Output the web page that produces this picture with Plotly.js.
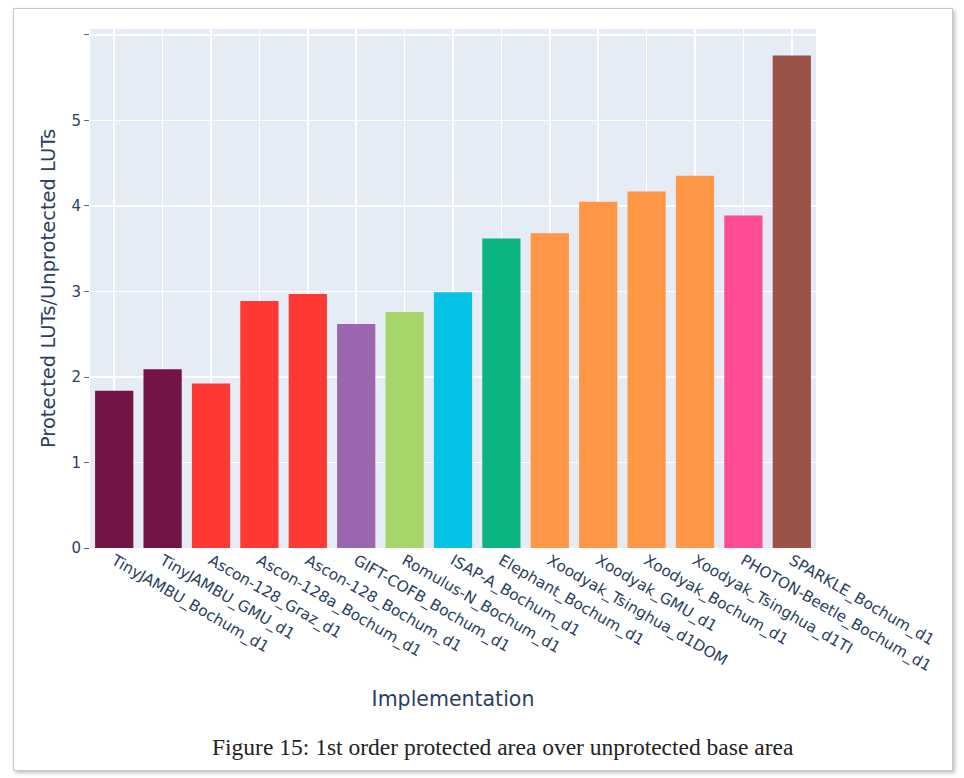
<!DOCTYPE html>
<html>
<head>
<meta charset="utf-8">
<script src="https://cdn.plot.ly/plotly-3.0.1.min.js"></script>
<style>
  html, body { margin: 0; padding: 0; background: #ffffff; }
  #frame {
    position: absolute; left: 13px; top: 8px; width: 938px; height: 761px;
    border: 1px solid #c8c8c8; box-shadow: 2px 2px 4px rgba(0,0,0,0.25);
  }
  #chart { position: absolute; left: 0; top: 0; width: 964px; height: 778px; }
</style>
</head>
<body>
<div id="frame"></div>
<div id="chart"></div>
<script>
// ---- data ----
const implementations = [
  "TinyJAMBU_Bochum_d1", "TinyJAMBU_GMU_d1", "Ascon-128_Graz_d1", "Ascon-128a_Bochum_d1",
  "Ascon-128_Bochum_d1", "GIFT-COFB_Bochum_d1", "Romulus-N_Bochum_d1", "ISAP-A_Bochum_d1",
  "Elephant_Bochum_d1", "Xoodyak_Tsinghua_d1DOM", "Xoodyak_GMU_d1", "Xoodyak_Bochum_d1",
  "Xoodyak_Tsinghua_d1TI", "PHOTON-Beetle_Bochum_d1", "SPARKLE_Bochum_d1"
];
const families = [
  "TinyJAMBU", "TinyJAMBU", "Ascon", "Ascon", "Ascon", "GIFT-COFB", "Romulus", "ISAP",
  "Elephant", "Xoodyak", "Xoodyak", "Xoodyak", "Xoodyak", "PHOTON-Beetle", "SPARKLE"
];
const ratios = [1.84, 2.09, 1.925, 2.89, 2.97, 2.62, 2.76, 2.99, 3.62, 3.68, 4.05, 4.17, 4.355, 3.89, 5.76];
const yTickValues = [0, 1, 2, 3, 4, 5, 6];
const yTickLabels = ["0", "1", "2", "3", "4", "5", ""];
const caption = "Figure 15: 1st order protected area over unprotected base area";

// ---- styles ----
const familyColors = {
  "TinyJAMBU": "#721445", "Ascon": "#FF3833", "GIFT-COFB": "#9B65B0", "Romulus": "#A6D56A",
  "ISAP": "#04C1E5", "Elephant": "#0BB582", "Xoodyak": "#FF9747", "PHOTON-Beetle": "#FF4B94",
  "SPARKLE": "#9B5247"
};

const trace = {
  type: "bar",
  x: implementations,
  y: ratios,
  marker: { color: families.map(f => familyColors[f]) },
  showlegend: false,
  hoverinfo: "x+y"
};

const layout = {
  width: 964, height: 778,
  margin: { l: 90, r: 148, t: 29, b: 230 },
  paper_bgcolor: "rgba(0,0,0,0)",
  plot_bgcolor: "#E5ECF6",
  font: { family: "DejaVu Sans, Verdana, sans-serif", color: "#2a3f5f", size: 15 },
  bargap: 0.21,
  xaxis: {
    type: "category",
    tickangle: 30,
    tickfont: { size: 15.3 },
    showgrid: true, gridcolor: "#ffffff", gridwidth: 1.5,
    title: { text: "Implementation", font: { size: 20.5 }, standoff: 16 },
    automargin: false
  },
  yaxis: {
    range: [0, 6.07],
    tickvals: yTickValues, ticktext: yTickLabels,
    ticks: "outside", ticklen: 5, tickcolor: "#666",
    gridcolor: "#ffffff", gridwidth: 1.5,
    zeroline: true, zerolinecolor: "#ffffff",
    title: { text: "Protected LUTs/Unprotected LUTs", font: { size: 19.5 }, standoff: 10 },
    automargin: false
  },
  annotations: [{
    text: caption, xref: "paper", yref: "paper",
    x: 0.569, y: -0.383, xanchor: "center", yanchor: "middle",
    showarrow: false,
    font: { family: "Liberation Serif, Times New Roman, serif", size: 23.5, color: "#222" }
  }]
};

Plotly.newPlot("chart", [trace], layout, { staticPlot: true, displayModeBar: false });
</script>
</body>
</html>
